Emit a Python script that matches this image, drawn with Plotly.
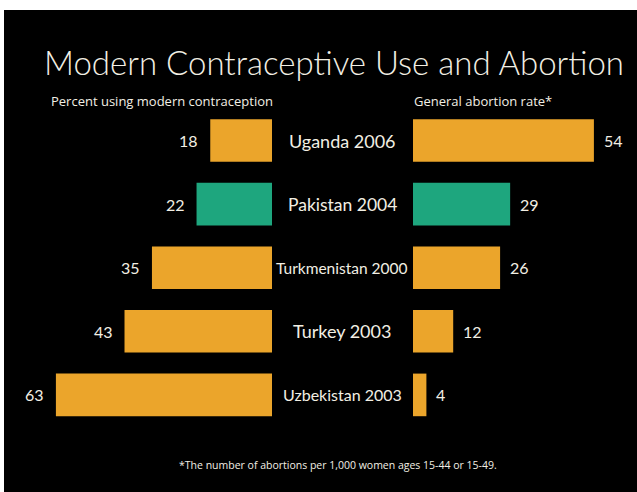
import plotly.graph_objects as go

countries = ["Uganda 2006", "Pakistan 2004", "Turkmenistan 2000", "Turkey 2003", "Uzbekistan 2003"]
contraception = [18, 22, 35, 43, 63]
abortion_rate = [54, 29, 26, 12, 4]
highlight = [False, True, False, False, False]

W, H = 637, 492
GOLD = "#EBA52B"
TEAL = "#1EA67E"
TXT = "#F2EFE4"
colors = [TEAL if h else GOLD for h in highlight]
ypos = list(range(len(countries)))
label_sizes = [18, 17.5, 15.5, 18, 16]

FONT = "Lato"
SUBFONT = "Open Sans"

fig = go.Figure()
fig.add_trace(go.Bar(y=ypos, x=contraception, orientation="h", marker=dict(color=colors, line=dict(width=0)),
                     width=0.67, xaxis="x", yaxis="y", showlegend=False, hoverinfo="x"))
fig.add_trace(go.Bar(y=ypos, x=abortion_rate, orientation="h", marker=dict(color=colors, line=dict(width=0)),
                     width=0.67, xaxis="x2", yaxis="y", showlegend=False, hoverinfo="x"))

ann = []
for i, c in enumerate(countries):
    ann.append(dict(x=342 / W, xref="paper", y=i, yref="y", text=c, showarrow=False,
                    xanchor="center", yanchor="middle", font=dict(family=FONT, size=label_sizes[i], color=TXT)))
    ann.append(dict(x=contraception[i], xref="x", y=i, yref="y", text=str(contraception[i]), showarrow=False,
                    xanchor="right", yanchor="middle", xshift=-10, font=dict(family=FONT, size=16, color=TXT)))
    ann.append(dict(x=abortion_rate[i], xref="x2", y=i, yref="y", text=str(abortion_rate[i]), showarrow=False,
                    xanchor="left", yanchor="middle", xshift=8, font=dict(family=FONT, size=16, color=TXT)))

ann.append(dict(x=334 / W, y=1 - 62 / H, xref="paper", yref="paper", text="Modern Contraceptive Use and Abortion",
                showarrow=False, xanchor="center", yanchor="middle",
                font=dict(family=FONT, size=33, color=TXT, weight=300)))
ann.append(dict(x=49 / W, y=1 - 101 / H, xref="paper", yref="paper", text="Percent using modern contraception",
                showarrow=False, xanchor="left", yanchor="middle", font=dict(family=SUBFONT, size=13, color=TXT)))
ann.append(dict(x=412 / W, y=1 - 101 / H, xref="paper", yref="paper", text="General abortion rate*",
                showarrow=False, xanchor="left", yanchor="middle", font=dict(family=SUBFONT, size=13, color=TXT)))
ann.append(dict(x=338 / W, y=1 - 465 / H, xref="paper", yref="paper",
                text="*The number of abortions per 1,000 women ages 15-44 or 15-49.",
                showarrow=False, xanchor="center", yanchor="middle", font=dict(family=SUBFONT, size=10.5, color=TXT)))

# y mapping: category 0 at pixel 140.5, spacing 63.6 px
y0px, dy = 140.5, 63.6
yr = [(H - y0px) / dy, -y0px / dy]

left_end = 272
right_start = 413
left_range = left_end / 3.43
right_range = (W - right_start) / 3.35

fig.update_layout(
    width=W, height=H, margin=dict(l=0, r=0, t=0, b=0),
    paper_bgcolor="white", plot_bgcolor="rgba(0,0,0,0)",
    barmode="overlay",
    xaxis=dict(domain=[0, left_end / W], range=[left_range, 0], visible=False, fixedrange=True),
    xaxis2=dict(domain=[right_start / W, 1], range=[0, right_range], visible=False, fixedrange=True),
    yaxis=dict(domain=[0, 1], range=[yr[0], yr[1]], visible=False, fixedrange=True),
    annotations=ann,
    shapes=[dict(type="rect", xref="paper", yref="paper", x0=4 / W, x1=1, y0=0, y1=1 - 10 / H,
                 fillcolor="black", line=dict(width=0), layer="below")],
)

fig.write_html("out.html")
